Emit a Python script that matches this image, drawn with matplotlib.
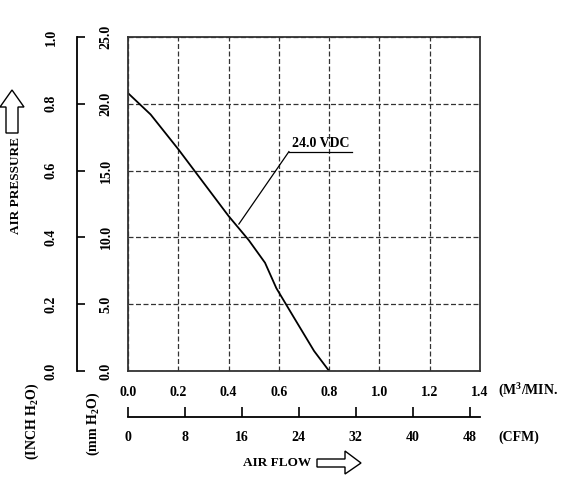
import numpy as np
import matplotlib
matplotlib.use("Agg")
import matplotlib.pyplot as plt
from matplotlib.patches import Polygon

plt.rcParams["font.family"] = "Liberation Serif"
plt.rcParams["font.weight"] = "bold"
plt.rcParams["mathtext.fontset"] = "custom"
plt.rcParams["mathtext.rm"] = "Liberation Serif:bold"
plt.rcParams["mathtext.it"] = "Liberation Serif:bold"
plt.rcParams["mathtext.bf"] = "Liberation Serif:bold"

# fan curve, air flow in m3/min vs static pressure in mm H2O
flow_m3 = [0.0, 0.09, 0.2, 0.3, 0.4, 0.48, 0.545, 0.59, 0.66, 0.74, 0.8]
pressure_mm = [20.8, 19.2, 16.6, 14.1, 11.6, 9.8, 8.1, 6.2, 4.0, 1.5, 0.0]
curve_label = "24.0 VDC"

m3_ticks = [0.0, 0.2, 0.4, 0.6, 0.8, 1.0, 1.2, 1.4]
cfm_ticks = [0, 8, 16, 24, 32, 40, 48]
mm_ticks = [0.0, 5.0, 10.0, 15.0, 20.0, 25.0]
inch_ticks = [0.0, 0.2, 0.4, 0.6, 0.8, 1.0]
CFM_PER_M3 = 35.3147

W, H = 564, 480
fig = plt.figure(figsize=(W / 100, H / 100), dpi=100)


def fbox(x0, y0, x1, y1):
    # pixel box (top-left origin) -> figure fraction rect
    return [x0 / W, 1 - y1 / H, (x1 - x0) / W, (y1 - y0) / H]


FS = 10

# main plot
ax = fig.add_axes(fbox(128, 37, 480, 371))
ax.plot(flow_m3, pressure_mm, color="black", lw=1.3)
ax.set_xlim(0, 1.4)
ax.set_ylim(0, 25)
ax.set_xticks(m3_ticks)
ax.set_xticklabels([f"{v:.1f}" for v in m3_ticks], fontsize=FS)
ax.set_yticks(mm_ticks)
ax.set_yticklabels([f"{v:.1f}" for v in mm_ticks], fontsize=FS,
                   rotation=90, va="center")
ax.tick_params(axis="x", length=0, pad=11)
ax.tick_params(axis="y", length=0, pad=11)
ax.grid(True, color="#333333", lw=0.9, ls=(0, (4, 2)))
for s in ax.spines.values():
    s.set_linewidth(1.3)
    s.set_color("#333333")

# curve label with underline and leader
ax.text(0.767, 17.0, curve_label, ha="center", va="center", fontsize=FS)
ax.plot([0.64, 0.891], [16.42, 16.42], color="black", lw=0.9)
ax.plot([0.64, 0.441], [16.42, 11.0], color="black", lw=0.9)

# inch H2O scale on the far left
ax_in = fig.add_axes(fbox(77, 37, 78, 371))
ax_in.set_ylim(0, 1.0)
ax_in.set_xticks([])
ax_in.set_yticks(inch_ticks)
ax_in.set_yticklabels([f"{v:.1f}" for v in inch_ticks], fontsize=FS,
                      rotation=90, va="center")
ax_in.tick_params(axis="y", direction="in", length=6, width=1.2, pad=14)
for k in ["top", "right", "bottom"]:
    ax_in.spines[k].set_visible(False)
ax_in.spines["left"].set_linewidth(1.3)
ax_in.patch.set_visible(False)

# CFM scale below
ax_cfm = fig.add_axes(fbox(128, 400, 480, 417))
ax_cfm.set_xlim(0, 1.4 * CFM_PER_M3)
ax_cfm.set_yticks([])
ax_cfm.set_xticks(cfm_ticks)
ax_cfm.set_xticklabels([str(v) for v in cfm_ticks], fontsize=FS)
ax_cfm.tick_params(axis="x", direction="in", length=7, width=1.2, pad=10)
for k in ["top", "right", "left"]:
    ax_cfm.spines[k].set_visible(False)
ax_cfm.spines["bottom"].set_linewidth(1.3)
ax_cfm.patch.set_visible(False)

# overlay in pixel coords for titles and arrows
deco = fig.add_axes([0, 0, 1, 1], zorder=-1)
deco.set_xlim(0, W)
deco.set_ylim(H, 0)
deco.axis("off")

deco.text(16, 186, "AIR PRESSURE", rotation=90, ha="center", va="center", fontsize=FS - 0.5)
deco.text(32, 421, "(INCH H$_2$O)", rotation=90, ha="center", va="center", fontsize=FS)
deco.text(93, 424, "(mm H$_2$O)", rotation=90, ha="center", va="center", fontsize=FS)
deco.text(498, 391, "(M$^3$/MIN.", ha="left", va="center", fontsize=FS)
deco.text(498, 437, "(CFM)", ha="left", va="center", fontsize=FS)
deco.text(277, 463, "AIR FLOW", ha="center", va="center", fontsize=FS - 0.5)

up = [(12, 90), (24, 107), (18, 107), (18, 133), (6, 133), (6, 107), (0, 107)]
deco.add_patch(Polygon(up, closed=True, fill=False, ec="black", lw=1.0))
right = [(317, 459), (345, 459), (345, 451), (361, 463), (345, 474), (345, 467), (317, 467)]
deco.add_patch(Polygon(right, closed=True, fill=False, ec="black", lw=1.0))

fig.savefig("out.png", dpi=100)
